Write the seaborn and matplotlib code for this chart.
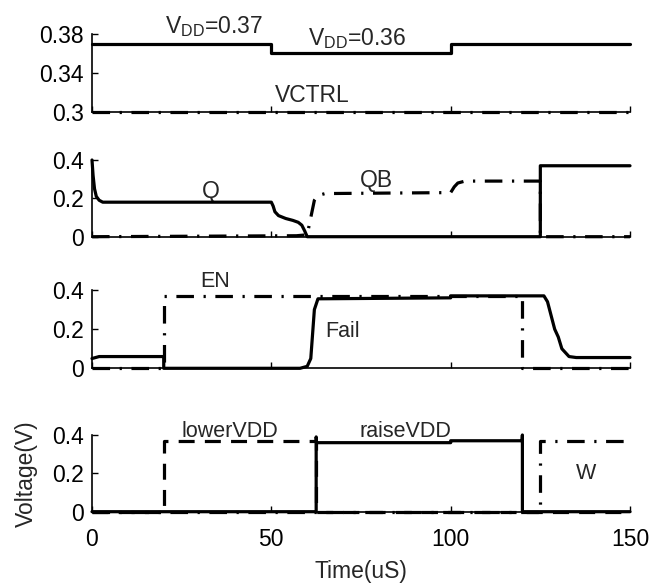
import matplotlib
matplotlib.use("Agg")
import matplotlib.pyplot as plt
import seaborn as sns
import pandas as pd

# ---------------- data ----------------
t_vdd = [0, 50, 50, 100, 100, 150]
v_vdd = [0.37, 0.37, 0.36, 0.36, 0.37, 0.37]
t_vctrl = [0, 150]
v_vctrl = [0.30, 0.30]

t_q = [0, 0.3, 0.7, 1.2, 2, 3, 50, 50.5, 51, 52, 54, 56, 57.5, 58.5, 59.3, 60, 125, 125, 150]
v_q = [0.40, 0.32, 0.25, 0.21, 0.19, 0.18, 0.18, 0.16, 0.13, 0.11, 0.095, 0.085, 0.075, 0.06, 0.03, 0.0, 0.0, 0.37, 0.37]
t_qb = [0, 57, 60, 61, 62, 63, 65, 100, 101, 102, 104, 125, 125, 150]
v_qb = [0.0, 0.005, 0.01, 0.10, 0.19, 0.215, 0.225, 0.23, 0.26, 0.28, 0.29, 0.29, 0.0, 0.0]

t_fail = [0, 2, 20, 20, 58, 60, 61, 62, 63, 100, 100, 126, 127, 128, 129, 130, 131, 133, 135, 150]
v_fail = [0.05, 0.06, 0.06, 0.0, 0.0, 0.01, 0.05, 0.30, 0.355, 0.36, 0.37, 0.37, 0.34, 0.27, 0.20, 0.16, 0.10, 0.06, 0.055, 0.055]
t_en = [0, 20, 20, 120, 120, 150]
v_en = [0.0, 0.0, 0.37, 0.37, 0.0, 0.0]

t_lower = [0, 20, 20, 62.5, 62.5, 150]
v_lower = [0.0, 0.0, 0.37, 0.37, 0.0, 0.0]
t_raise = [0, 62.5, 62.5, 62.6, 100, 100, 119.9, 120, 120, 150]
v_raise = [0.0, 0.0, 0.39, 0.36, 0.36, 0.37, 0.37, 0.40, 0.0, 0.0]
t_w = [0, 125, 125, 150]
v_w = [0.0, 0.0, 0.37, 0.37]

x_ticks = [0, 50, 100, 150]
y_ticks_top = [0.3, 0.34, 0.38]
y_tick_labels_top = ["0.3", "0.34", "0.38"]
y_ticks = [0, 0.2, 0.4]
y_tick_labels = ["0", "0.2", "0.4"]

# ---------------- style ----------------
sns.set_style("ticks")
plt.rcParams["font.family"] = ["Liberation Sans", "DejaVu Sans"]

LW = 2.3
SOLID = "-"
DASH = (0, (5.0, 3.2))
DASHDOT = (0, (5.5, 3.0, 0.7, 3.0))
TICK_FS = 16.5
LBL_FS = 16.5
TXT_FS = 16.5
TXT_FS2 = 15.5

fig = plt.figure(figsize=(6.51, 5.85), dpi=100)
left, width = 92 / 651, 538 / 651
H = 585.0
boxes = [(34, 111.7), (160, 236.7), (290, 368.3), (435, 511.7)]
axes = []
for top, bot in boxes:
    ax = fig.add_axes([left, 1 - bot / H, width, (bot - top) / H])
    axes.append(ax)


def draw(ax, t, v, ls):
    df = pd.DataFrame({"t": t, "v": v})
    sns.lineplot(data=df, x="t", y="v", ax=ax, color="black", lw=LW,
                 linestyle=ls, estimator=None, sort=False, clip_on=False,
                 legend=False, zorder=5)


def style(ax, yt, ylab, ylim, show_x):
    ax.set_xlim(0, 150)
    ax.set_ylim(*ylim)
    ax.set_xticks(x_ticks)
    ax.set_yticks(yt)
    ax.set_yticklabels(ylab)
    if not show_x:
        ax.set_xticklabels([])
    ax.tick_params(direction="in", length=4, width=1.0, labelsize=TICK_FS,
                   colors="black")
    ax.tick_params(axis="y", pad=6)
    ax.tick_params(axis="x", pad=12)
    for s in ["top", "right"]:
        ax.spines[s].set_visible(False)
    for s in ["left", "bottom"]:
        ax.spines[s].set_linewidth(1.2)
        ax.spines[s].set_color("black")
    ax.set_xlabel("")
    ax.set_ylabel("")
    ax.set_facecolor("white")


# Panel 1
ax = axes[0]
draw(ax, t_vdd, v_vdd, SOLID)
draw(ax, t_vctrl, v_vctrl, DASHDOT)
style(ax, y_ticks_top, y_tick_labels_top, (0.3, 0.38), False)
ax.text(20.3, 0.3745, r"V$_\mathregular{DD}$=0.37", fontsize=TXT_FS, va="bottom", ha="left")
ax.text(60.2, 0.3625, r"V$_\mathregular{DD}$=0.36", fontsize=TXT_FS, va="bottom", ha="left")
ax.text(51, 0.3095, "VCTRL", fontsize=TXT_FS, va="baseline", ha="left")

# Panel 2
ax = axes[1]
draw(ax, t_q, v_q, SOLID)
draw(ax, t_qb, v_qb, DASHDOT)
style(ax, y_ticks, y_tick_labels, (0, 0.4), False)
ax.text(33, 0.235, "Q", fontsize=TXT_FS, va="center", ha="center")
ax.text(74.7, 0.295, "QB", fontsize=TXT_FS, va="center", ha="left")

# Panel 3
ax = axes[2]
draw(ax, t_fail, v_fail, SOLID)
draw(ax, t_en, v_en, DASHDOT)
style(ax, y_ticks, y_tick_labels, (0, 0.4), False)
ax.text(30.1, 0.445, "EN", fontsize=TXT_FS2, va="center", ha="left")
ax.text(64.9, 0.187, "Fail", fontsize=TXT_FS2, va="center", ha="left")

# Panel 4
ax = axes[3]
draw(ax, t_lower, v_lower, DASH)
draw(ax, t_raise, v_raise, SOLID)
draw(ax, t_w, v_w, DASHDOT)
style(ax, y_ticks, y_tick_labels, (0, 0.4), True)
ax.text(24.9, 0.42, "lowerVDD", fontsize=TXT_FS2, va="center", ha="left")
ax.text(74.7, 0.42, "raiseVDD", fontsize=TXT_FS2, va="center", ha="left")
ax.text(134.9, 0.197, "W", fontsize=TXT_FS2, va="center", ha="left")
ax.set_xlabel("Time(uS)", fontsize=LBL_FS, labelpad=6)
ax.set_ylabel("Voltage(V)", fontsize=LBL_FS, labelpad=10)

fig.savefig("out.png", dpi=100, facecolor="white")
